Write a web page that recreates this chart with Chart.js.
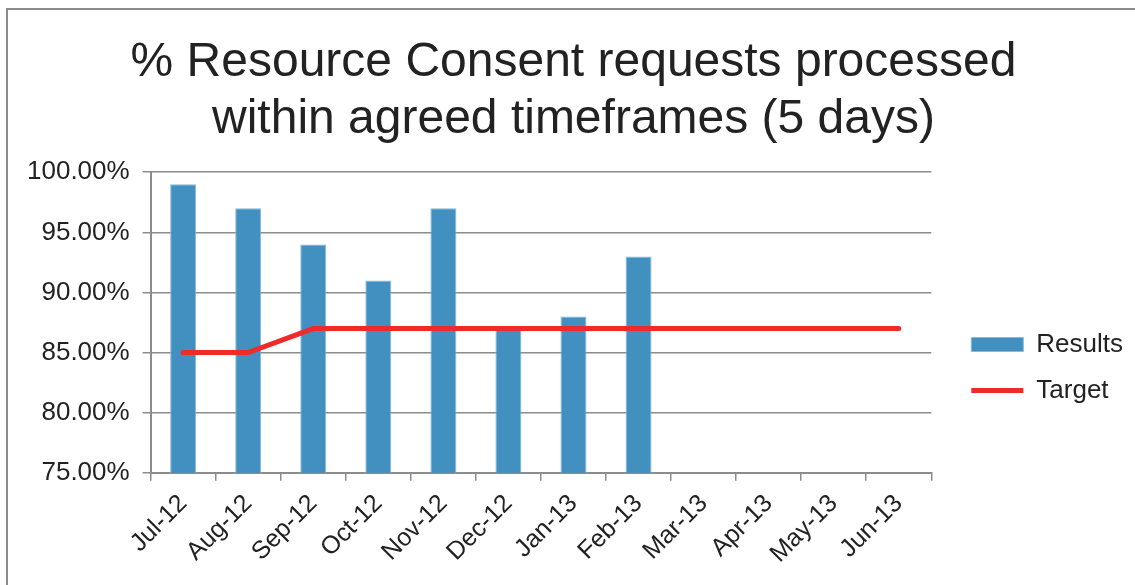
<!DOCTYPE html>
<html>
<head>
<meta charset="utf-8">
<script src="https://cdn.jsdelivr.net/npm/chart.js@4"></script>
<style>
  html, body { margin: 0; padding: 0; background: #fff; overflow: hidden; }
  .frame {
    position: absolute; left: 6px; top: 8px; width: 1200px; height: 700px;
    border: 2px solid #8c8c8c; box-sizing: border-box;
  }
  .chartContainer { position: absolute; left: 0; top: 0; width: 1135px; height: 585px; }
</style>
</head>
<body>
<div class="frame"></div>
<div class="chartContainer"><canvas class="combo-chart" width="1135" height="585"></canvas></div>
<script>
const months = ["Jul-12", "Aug-12", "Sep-12", "Oct-12", "Nov-12", "Dec-12",
  "Jan-13", "Feb-13", "Mar-13", "Apr-13", "May-13", "Jun-13"];
const results = [99, 97, 94, 91, 97, 87, 88, 93, null, null, null, null];
const target = [85, 85, 87, 87, 87, 87, 87, 87, 87, 87, 87, 87];

const fontFamily = "'Liberation Sans', Arial, sans-serif";
const textColor = "#222";
const gridColor = "#8c8c8c";
const comboChart = document.querySelector(".combo-chart");

new Chart(comboChart, {
  type: "bar",
  data: {
    labels: months,
    datasets: [
      {
        label: "Results",
        data: results,
        backgroundColor: "#4190c0",
        borderColor: "#86b9da",
        borderWidth: 1,
        barPercentage: 0.4,
        categoryPercentage: 1,
        pointStyle: "rect",
        order: 1,
      },
      {
        type: "line",
        label: "Target",
        data: target,
        borderColor: "#ee2a2a",
        backgroundColor: "#ee2a2a",
        borderWidth: 5,
        borderCapStyle: "round",
        pointRadius: 0,
        tension: 0,
        pointStyle: "line",
        order: 0,
      },
    ],
  },
  options: {
    responsive: false,
    animation: false,
    maintainAspectRatio: false,
    layout: { padding: { left: 14, right: 2, top: 34, bottom: 8 } },
    plugins: {
      title: {
        display: true,
        text: ["% Resource Consent requests processed", "within agreed timeframes (5 days)"],
        font: { family: fontFamily, size: 48, weight: "normal", lineHeight: 1.19 },
        color: textColor,
        padding: { top: 0, bottom: 24 },
      },
      legend: {
        position: "right",
        // blank title only pushes the legend items down a bit
        title: { display: true, text: " ", padding: 56, font: { size: 10 } },
        labels: {
          usePointStyle: true,
          pointStyleWidth: 52,
          boxHeight: 14,
          padding: 20,
          color: textColor,
          font: { family: fontFamily, size: 26 },
          sort: (a, b) => a.datasetIndex - b.datasetIndex,
        },
      },
      tooltip: { enabled: false },
    },
    scales: {
      x: {
        offset: true,
        grid: {
          offset: true,
          drawOnChartArea: false,
          drawTicks: true,
          tickLength: 8,
          color: gridColor,
          lineWidth: 1.5,
        },
        border: { color: gridColor, width: 2 },
        ticks: {
          color: textColor,
          font: { family: fontFamily, size: 25 },
          maxRotation: 45,
          minRotation: 45,
          autoSkip: false,
          padding: 8,
        },
      },
      y: {
        min: 75,
        max: 100,
        grid: { color: gridColor, lineWidth: 1.5, tickLength: 8 },
        border: { color: gridColor, width: 2 },
        ticks: {
          stepSize: 5,
          color: textColor,
          font: { family: fontFamily, size: 26, lineHeight: 0.9 },
          padding: 13,
          callback: (value) => value.toFixed(2) + "%",
        },
      },
      // empty axis, just keeps space between plot and legend
      gap: {
        position: "right",
        grid: { display: false },
        border: { display: false },
        ticks: { display: false },
        afterFit: (scale) => {
          scale.width = 20;
        },
      },
    },
  },
});
</script>
</body>
</html>
